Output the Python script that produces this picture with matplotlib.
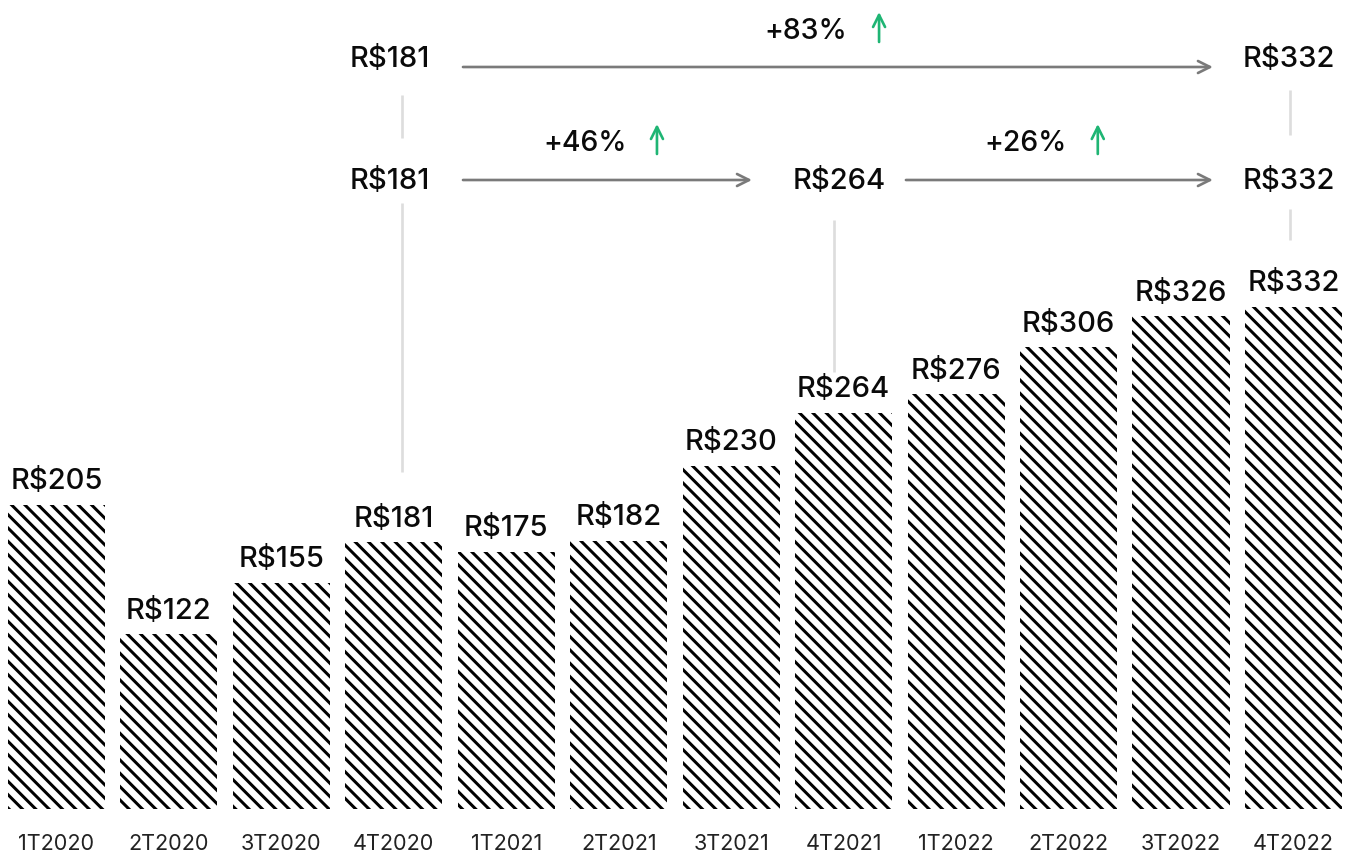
import numpy as np
import matplotlib
matplotlib.use('Agg')
import matplotlib.pyplot as plt

quarters = ['1T2020', '2T2020', '3T2020', '4T2020', '1T2021', '2T2021',
            '3T2021', '4T2021', '1T2022', '2T2022', '3T2022', '4T2022']
values = [205, 122, 155, 181, 175, 182, 230, 264, 276, 306, 326, 332]

# comparisons drawn above the bars: (from index, to index)
cmp_long = (3, 11)
cmp_short = [(3, 7), (7, 11)]

plt.rcParams['font.family'] = ['Inter', 'DejaVu Sans']
plt.rcParams['hatch.linewidth'] = 1.8
plt.rcParams['hatch.color'] = 'black'

DPI = 120
W, H = 1348, 852
base_px = 809

fig = plt.figure(figsize=(W / DPI, H / DPI), dpi=DPI)
ax = fig.add_axes([0, (H - base_px) / H, 1, base_px / H])

x = np.arange(len(values))
ax.bar(x, values, width=0.863, color='white', edgecolor='black',
       linewidth=0, hatch='\\\\\\')

ax.set_xlim(-0.502, 11.485)
ax.set_ylim(10, 10 + base_px / 1.56)

for s in ax.spines.values():
    s.set_visible(False)
ax.set_yticks([])
ax.set_xticks(x)
ax.set_xticklabels(quarters)
ax.tick_params(axis='x', length=0, pad=15, labelsize=13, labelcolor='#222222')

txt = '#0a0a0a'
FS = 17.5
for i, v in enumerate(values):
    ax.annotate('R$%d' % v, (i, v), xytext=(0, 9.3), textcoords='offset points',
                ha='center', va='baseline', fontsize=FS, color=txt,
                fontweight='medium')

tr = ax.get_xaxis_transform()


def fy(p):
    # pixel row (from top) -> axes fraction
    return (base_px - p) / base_px


def label(i, p):
    ax.text(i - 0.04, fy(p), 'R$%d' % values[i], transform=tr, ha='center',
            va='baseline', fontsize=FS, color=txt, fontweight='medium')


def arrow(x0, x1, p):
    ax.annotate('', xy=(x1, fy(p)), xytext=(x0, fy(p)), xycoords=tr, textcoords=tr,
                arrowprops=dict(arrowstyle='->', color='#7a7a7a', lw=1.6,
                                mutation_scale=18, shrinkA=0, shrinkB=0))


def vline(xx, p0, p1):
    ax.plot([xx, xx], [fy(p0), fy(p1)], transform=tr, color='#dddddd', lw=1.6,
            solid_capstyle='butt')


def pct(xc, xa, p, a, b):
    ch = (values[b] / values[a] - 1) * 100
    ax.text(xc, fy(p), '+%d%%' % round(ch), transform=tr, ha='center',
            va='baseline', fontsize=17, color=txt, fontweight='medium')
    ax.annotate('', xy=(xa, fy(p - 27)), xytext=(xa, fy(p + 3)), xycoords=tr,
                textcoords=tr,
                arrowprops=dict(arrowstyle='->', color='#1fb574', lw=1.6,
                                mutation_scale=18, shrinkA=0, shrinkB=0))


# top row: long comparison
a, b = cmp_long
label(a, 67)
label(b, 67)
arrow(a + 0.615, b - 0.716, 67)
pct(6.665, 7.315, 39, a, b)

# middle row
label(3, 189)
label(7, 189)
label(11, 189)
for (a, b), (x0, x1), xc, xa in zip(cmp_short,
                                     [(3.615, 6.185), (7.554, 10.284)],
                                     [4.70, 8.62], [5.34, 9.26]):
    arrow(x0, x1, 180)
    pct(xc, xa, 151, a, b)

# connectors
vline(3.073, 95, 138)
vline(3.073, 203, 472)
vline(6.914, 220, 372)
vline(10.97, 90, 135)
vline(10.97, 209, 240)

fig.savefig('out.png', dpi=DPI)
